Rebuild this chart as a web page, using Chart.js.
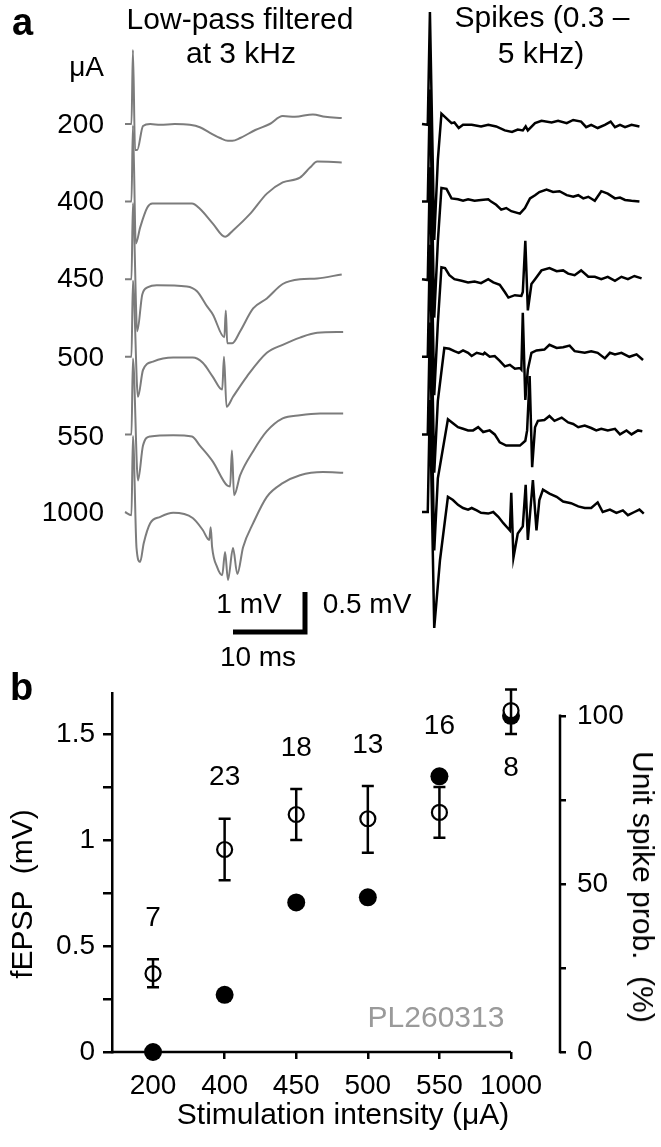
<!DOCTYPE html>
<html>
<head>
<meta charset="utf-8">
<script src="https://cdn.jsdelivr.net/npm/chart.js@4.4.1/dist/chart.umd.min.js"></script>
<style>
  body { margin: 0; background: #fff; }
  #page { position: relative; width: 661px; height: 1147px; overflow: hidden; font-family: 'Liberation Sans', Arial, sans-serif; color: #000; }
  canvas { position: absolute; left: 0; }
  .txt { position: absolute; white-space: pre; line-height: 1; }
</style>
</head>
<body>
<div id="page">
  <canvas id="tracesChart" width="661" height="640" style="top:0"></canvas>
  <canvas id="summaryChart" width="661" height="507" style="top:640px"></canvas>
</div>
<script>
// ---- Data (panel a): traces as [time ms, voltage mV] ----
const intensities = ['200', '400', '450', '500', '550', '1000'];

// low-pass filtered at 3 kHz (grey)
const lp200 = [[0,0],[0.9,0],[1.1,1.85],[1.4,-0.65],[1.7,-0.65],[2.5,-0.05],[3.5,0],[4.9,-0.02],[6.9,0],[9.0,-0.02],[10.4,-0.08],[11.8,-0.22],[13.2,-0.35],[14.3,-0.42],[14.9,-0.42],[16.0,-0.35],[18.1,-0.15],[20.1,0],[21.9,0.2],[23.6,0.18],[26.1,0.24],[27.8,0.18],[30.1,0.15]];
const lp400 = [[0,0],[0.9,0],[1.1,1.9],[1.5,-1.05],[2.1,-0.65],[3.1,-0.15],[3.8,-0.05],[5.8,-0.05],[9.3,-0.05],[10.4,-0.18],[12.2,-0.55],[13.9,-0.88],[15.0,-0.72],[17.4,-0.3],[19.7,0.2],[21.9,0.48],[24.3,0.6],[25.7,0.85],[26.7,1.0],[30.1,0.98]];
const lp450 = [[0,0],[0.9,0],[1.1,1.9],[1.7,-1.3],[2.4,-0.38],[3.2,-0.2],[4.4,-0.15],[8.6,-0.18],[10.0,-0.3],[11.4,-0.68],[12.2,-0.88],[13.8,-1.45],[14.0,-0.78],[14.2,-1.6],[14.9,-1.6],[16.0,-1.3],[17.8,-0.73],[19.7,-0.48],[21.9,-0.12],[24.3,0],[26.7,0.02],[30.1,0.12]];
const lp500 = [[0,0],[0.9,0],[1.1,1.9],[1.8,-1.0],[2.5,-0.33],[3.9,-0.12],[6.7,-0.02],[9.4,-0.02],[10.8,-0.15],[12.2,-0.5],[13.5,-0.82],[13.75,0.0],[14.1,-1.25],[15.0,-1.0],[16.9,-0.5],[19.7,0.1],[21.9,0.3],[24.3,0.48],[26.7,0.6],[30.3,0.62]];
const lp550 = [[0,0],[0.9,0],[1.1,1.9],[1.8,-1.15],[2.5,-0.28],[3.5,-0.05],[6.7,-0.02],[9.3,-0.05],[10.4,-0.28],[12.2,-0.68],[14.2,-1.28],[14.6,-1.3],[14.85,-0.4],[15.15,-1.52],[16.0,-1.02],[17.8,-0.42],[19.7,0.08],[21.9,0.4],[24.3,0.48],[27.1,0.52],[30.3,0.52]];
const lp1000 = [[0,0],[0.9,-0.08],[1.1,1.9],[1.6,-0.9],[2.1,-1.25],[2.6,-0.78],[3.5,-0.28],[4.9,-0.12],[6.7,-0.02],[9.4,-0.15],[10.8,-0.45],[11.7,-0.7],[11.9,-0.38],[12.1,-0.88],[12.8,-1.38],[13.5,-1.58],[13.9,-1.0],[14.3,-1.7],[15.0,-0.9],[15.6,-1.55],[16.4,-0.88],[17.8,-0.28],[19.7,0.38],[21.9,0.72],[24.3,0.92],[27.5,1.0],[30.3,0.98]];

// spikes, band-pass 0.3 - 5 kHz (black)
const sp200 = [[0,0],[0.8,-0.01],[1.1,1.4],[1.7,-1.45],[2.2,-0.45],[2.7,0.13],[3.4,0.07],[4.1,0.01],[4.5,0.02],[5.1,-0.05],[5.7,-0.01],[6.9,-0.01],[8.2,-0.03],[9.2,-0.01],[10.3,-0.03],[11.5,-0.08],[12.5,-0.1],[13.3,-0.07],[14.0,-0.08],[14.4,-0.03],[14.7,-0.08],[15.7,0.01],[16.6,0.04],[18.0,0.02],[18.9,0.04],[20.1,0.01],[21.0,0.05],[22.1,0.03],[22.8,-0.04],[23.5,-0.01],[24.4,-0.05],[25.4,-0.01],[26.2,0.03],[26.8,-0.04],[27.5,-0.01],[28.2,-0.04],[29.1,-0.01],[30.2,-0.03]];
const sp400 = [[0,0],[0.8,0],[1.1,1.4],[1.7,-1.45],[2.2,-0.5],[2.7,0.17],[3.4,0.16],[4.1,0.04],[5.0,0.03],[5.7,0.01],[6.4,0.03],[7.3,0.01],[8.2,0.02],[9.2,0.03],[9.6,0],[10.3,-0.04],[11.0,-0.1],[11.7,-0.08],[12.4,-0.12],[13.6,-0.15],[14.3,-0.08],[15.0,0.04],[15.7,0.08],[16.3,0.12],[17.3,0.15],[18.2,0.12],[19.1,0.13],[20.1,0.08],[21.0,0.06],[21.7,0.08],[22.4,0.04],[23.1,0.06],[24.0,0.01],[24.9,0.13],[25.8,0.1],[26.8,0.04],[27.5,0.05],[28.2,0.02],[29.1,0.01],[30.2,0]];
const sp450 = [[0,0],[0.8,-0.01],[1.1,1.4],[1.7,-1.45],[2.2,-0.55],[2.7,0.15],[3.2,0.14],[3.8,0.05],[4.5,0],[5.5,-0.02],[6.4,-0.04],[7.3,-0.03],[8.2,-0.05],[9.2,0],[9.9,-0.04],[10.8,-0.07],[11.5,-0.16],[12.0,-0.23],[12.9,-0.2],[13.8,-0.21],[14.0,-0.16],[14.35,0.48],[14.7,-0.39],[15.2,-0.06],[15.7,0],[16.6,0.11],[17.7,0.14],[18.7,0.1],[19.6,0.11],[20.3,0.07],[21.2,0.05],[22.1,0.11],[23.1,0.03],[24.0,0.03],[24.9,0],[25.8,0.03],[26.8,-0.02],[27.7,0.03],[28.6,0],[29.5,0.04],[30.5,0.01]];
const sp500 = [[0,0],[0.8,0],[1.1,1.4],[1.7,-1.45],[2.2,-0.55],[3.1,0.11],[3.8,0.1],[4.5,0.07],[5.1,0.05],[5.7,0.08],[6.4,0.05],[6.9,0.01],[7.6,0.05],[8.5,0.03],[8.7,0.05],[9.4,0],[10.1,0.01],[10.8,-0.05],[11.5,-0.12],[12.2,-0.1],[12.9,-0.15],[13.6,-0.14],[13.8,-0.16],[14.0,0.55],[14.35,-0.54],[14.7,-0.16],[15.2,0.05],[15.9,0.08],[17.0,0.09],[17.7,0.15],[18.7,0.11],[19.6,0.12],[20.5,0.14],[21.2,0.07],[22.6,0.05],[23.5,0.07],[24.4,0.05],[25.4,-0.02],[26.1,0.05],[26.8,0.03],[27.7,0.05],[28.8,0],[29.8,0.03],[30.7,-0.04]];
const sp550 = [[0,0],[0.8,0],[1.1,1.4],[1.7,-1.45],[2.2,-0.55],[3.6,0.19],[4.3,0.14],[5.0,0.09],[5.7,0.07],[6.4,0.05],[7.1,0.05],[7.8,0.09],[8.5,0.03],[9.4,0.05],[10.1,0],[10.8,-0.1],[11.7,-0.14],[12.6,-0.14],[13.6,-0.14],[14.35,-0.08],[14.6,0.05],[14.95,0.73],[15.3,-0.41],[15.7,0.09],[16.1,0.17],[17.0,0.18],[17.7,0.23],[18.4,0.17],[19.4,0.21],[20.3,0.15],[21.0,0.13],[21.7,0.09],[22.6,0.11],[23.5,0.08],[24.2,0.05],[24.9,0.07],[25.8,0.05],[26.8,0.07],[27.5,0],[28.4,0.05],[29.1,0],[30.0,0.05],[30.6,0.04]];
const sp1000 = [[0,0],[0.8,0],[1.1,1.4],[1.7,-1.45],[2.5,-0.6],[3.6,0.19],[4.3,0.15],[5.0,0.09],[5.7,0.05],[6.4,0.03],[6.9,0.05],[7.6,0.02],[8.2,-0.01],[9.2,-0.02],[9.9,0],[10.6,-0.06],[11.3,-0.14],[11.9,-0.2],[12.2,-0.23],[12.4,0.24],[12.7,-0.57],[13.3,-0.27],[14.0,-0.18],[14.4,0.34],[14.7,-0.35],[15.4,0.4],[15.9,-0.23],[16.3,0.15],[16.8,0.28],[17.7,0.23],[18.7,0.19],[19.6,0.13],[20.7,0.11],[21.7,0.07],[22.6,0.05],[23.5,0.05],[24.4,0.12],[25.1,0],[26.1,0.03],[27.0,-0.01],[27.9,0.02],[28.6,-0.04],[29.5,0],[30.2,0.03],[30.8,-0.02]];

const lowpassTraces = [lp200, lp400, lp450, lp500, lp550, lp1000];
const spikeTraces = [sp200, sp400, sp450, sp500, sp550, sp1000];

// ---- Data (panel b) ----
const stimLabels = ['200', '400', '450', '500', '550', '1000'];
const fepspMean = [0.37, 0.955, 1.12, 1.10, 1.13, 1.61];
const fepspLo   = [0.305, 0.81, 1.00, 0.94, 1.01, 1.50];
const fepspHi   = [0.437, 1.10, 1.24, 1.255, 1.25, 1.71];
const spikeProb = [0, 17, 44.5, 46, 82, 100];
const nCells    = [7, 23, 18, 13, 16, 8];
const nPlace    = ['above', 'above', 'above', 'above', 'above', 'below'];
const fepspTicks = [0, 0.25, 0.5, 0.75, 1, 1.25, 1.5];
const probTicks  = [0, 25, 50, 75, 100];

// ---- layout of panel a (px) ----
const W = 661, H_A = 640;
const PX_PER_MS = 7.2;
const L_T0 = 125, R_T0 = 422;     // where t = 0 sits for each column
const BASE0 = 124, GAP = 77.6;    // first baseline and spacing between traces
const L_PX_MV = 40, R_PX_MV = 80; // 1 mV -> 40 px, 0.5 mV -> 40 px
const SCALE_MS = 10, SCALE_MV = 1;
const scaleBarStart = { t: 15, v: -12.7 };

Chart.defaults.font.family = "'Liberation Sans', Arial, sans-serif";
Chart.defaults.color = '#000';

const traceSets = [];
lowpassTraces.forEach((tr, i) => {
    traceSets.push({
        data: tr.map(p => ({ x: p[0], y: p[1] - i * GAP / L_PX_MV })),
        xAxisID: 'x', yAxisID: 'y',
        borderColor: '#7c7c7c', borderWidth: 2, showLine: true, pointRadius: 0, clip: false,
        cubicInterpolationMode: 'monotone'
    });
});
spikeTraces.forEach((tr, i) => {
    traceSets.push({
        data: tr.map(p => ({ x: p[0], y: p[1] - i * GAP / R_PX_MV })),
        xAxisID: 'x2', yAxisID: 'y2',
        borderColor: '#000', borderWidth: 2.5, showLine: true, pointRadius: 0, clip: false
    });
});
// scale bar (10 ms, 1 mV on the low-pass scale)
traceSets.push({
    data: [
        { x: scaleBarStart.t, y: scaleBarStart.v },
        { x: scaleBarStart.t + SCALE_MS, y: scaleBarStart.v },
        { x: scaleBarStart.t + SCALE_MS, y: scaleBarStart.v + SCALE_MV }
    ],
    xAxisID: 'x', yAxisID: 'y',
    borderColor: '#000', borderWidth: 5, showLine: true, pointRadius: 0,
    borderCapStyle: 'butt', borderJoinStyle: 'miter', clip: false
});

new Chart(document.getElementById('tracesChart'), {
    type: 'scatter',
    data: { datasets: traceSets },
    options: {
        responsive: false, animation: false, events: [],
        layout: { padding: 0 },
        plugins: { legend: { display: false }, tooltip: { enabled: false } },
        scales: {
            x:  { type: 'linear', display: false, min: -L_T0 / PX_PER_MS, max: (W - L_T0) / PX_PER_MS },
            x2: { type: 'linear', axis: 'x', display: false, min: -R_T0 / PX_PER_MS, max: (W - R_T0) / PX_PER_MS },
            y:  { type: 'linear', display: false, max: BASE0 / L_PX_MV, min: (BASE0 - H_A) / L_PX_MV },
            y2: { type: 'linear', axis: 'y', display: false, max: BASE0 / R_PX_MV, min: (BASE0 - H_A) / R_PX_MV }
        }
    }
});

// ---- panel b ----
const errorBars = {
    id: 'errorBars',
    beforeDatasetsDraw(chart) {
        // partial axis lines: x axis stops at last category, right axis spans 0-100 only
        const { ctx, chartArea, scales } = chart;
        ctx.save();
        ctx.strokeStyle = '#000';
        ctx.lineWidth = 2.5;
        ctx.beginPath();
        ctx.moveTo(chartArea.left - 1.25, chartArea.bottom);
        ctx.lineTo(scales.x.getPixelForValue(stimLabels.length - 1), chartArea.bottom);
        ctx.moveTo(chartArea.right, scales.y2.getPixelForValue(0) + 1.25);
        ctx.lineTo(chartArea.right, scales.y2.getPixelForValue(100) - 1.25);
        ctx.stroke();
        ctx.restore();
    },
    afterDatasetsDraw(chart) {
        const { ctx, scales } = chart;
        ctx.save();
        ctx.strokeStyle = '#000';
        ctx.lineWidth = 2.5;
        fepspMean.forEach((m, i) => {
            const px = scales.x.getPixelForValue(i);
            const top = scales.y.getPixelForValue(fepspHi[i]);
            const bot = scales.y.getPixelForValue(fepspLo[i]);
            ctx.beginPath();
            ctx.moveTo(px, top); ctx.lineTo(px, bot);
            ctx.moveTo(px - 6, top); ctx.lineTo(px + 6, top);
            ctx.moveTo(px - 6, bot); ctx.lineTo(px + 6, bot);
            ctx.stroke();
        });
        // number of cells
        ctx.fillStyle = '#000';
        ctx.font = "28px 'Liberation Sans', Arial, sans-serif";
        ctx.textAlign = 'center';
        ctx.textBaseline = 'middle';
        nCells.forEach((n, i) => {
            const px = scales.x.getPixelForValue(i);
            let py;
            if (nPlace[i] === 'below') {
                py = scales.y.getPixelForValue(fepspLo[i]) + 34;
            } else {
                const top = Math.min(scales.y.getPixelForValue(fepspHi[i]), scales.y2.getPixelForValue(spikeProb[i]) - 9);
                py = top - 41;
            }
            ctx.fillText(String(n), px, py);
        });
        ctx.restore();
    }
};

const axisGrid = { drawOnChartArea: false, drawTicks: true, color: '#000', lineWidth: 2.5 };

new Chart(document.getElementById('summaryChart'), {
    type: 'scatter',
    data: {
        datasets: [
            {
                label: 'fEPSP',
                data: fepspMean.map((v, i) => ({ x: i, y: v })),
                yAxisID: 'y',
                pointRadius: 7.5, pointBorderWidth: 2.2,
                pointBorderColor: '#000', pointBackgroundColor: '#fff', clip: false
            },
            {
                label: 'Unit spike prob.',
                data: spikeProb.map((v, i) => ({ x: i, y: v })),
                yAxisID: 'y2',
                pointRadius: 9, pointBorderWidth: 0,
                pointBorderColor: '#000', pointBackgroundColor: '#000', clip: false
            }
        ]
    },
    plugins: [errorBars],
    options: {
        responsive: false, animation: false, events: [],
        layout: { padding: { top: 53, left: 0, right: 0, bottom: 0 } },
        plugins: { legend: { display: false }, tooltip: { enabled: false } },
        scales: {
            x: {
                type: 'linear', min: -0.573, max: 5.684,
                afterBuildTicks: s => { s.ticks = stimLabels.map((_, i) => ({ value: i })); },
                afterFit: s => { s.height = 95; },
                ticks: { callback: v => stimLabels[v], font: { size: 28 }, color: '#000', padding: 10, maxRotation: 0, autoSkip: false },
                grid: Object.assign({}, axisGrid, { tickLength: 7 }),
                border: { display: false }
            },
            y: {
                type: 'linear', position: 'left', min: 0, max: 1.693,
                afterBuildTicks: s => { s.ticks = fepspTicks.map(v => ({ value: v })); },
                afterFit: s => { s.width = 112; },
                ticks: { callback: v => (v % 0.5 === 0 ? String(v) : ''), font: { size: 28 }, color: '#000', padding: 8 },
                grid: Object.assign({}, axisGrid, { tickLength: 9 }),
                border: { display: true, color: '#000', width: 2.5 }
            },
            y2: {
                type: 'linear', position: 'right', min: 0, max: 106.8,
                afterBuildTicks: s => { s.ticks = probTicks.map(v => ({ value: v })); },
                afterFit: s => { s.width = 101; },
                ticks: { callback: v => (v % 50 === 0 ? String(v) : ''), font: { size: 28 }, color: '#000', padding: 11 },
                grid: Object.assign({}, axisGrid, { tickLength: 6 }),
                border: { display: false }
            }
        }
    }
});

// ---- text labels ----
const page = document.getElementById('page');
function addText(text, x, y, opts) {
    const o = Object.assign({ size: 28, align: 'center', bold: false, color: '#000', rotate: 0 }, opts || {});
    const d = document.createElement('div');
    d.className = 'txt';
    d.textContent = text;
    d.style.fontSize = o.size + 'px';
    d.style.color = o.color;
    if (o.bold) d.style.fontWeight = 'bold';
    d.style.top = y + 'px';
    d.style.left = x + 'px';
    const tx = o.align === 'center' ? '-50%' : (o.align === 'right' ? '-100%' : '0');
    d.style.transform = `translate(${tx}, -50%)`;
    if (o.rotate) d.style.transform = `translate(-50%, -50%) rotate(${o.rotate}deg)`;
    page.appendChild(d);
}

addText('a', 12, 22, { size: 38, bold: true, align: 'left' });
addText('Low-pass filtered', 240, 19, { size: 30 });
addText('at 3 kHz', 241, 53, { size: 30 });
addText('Spikes (0.3 \u2013', 542, 17, { size: 30 });
addText('5 kHz)', 541, 53, { size: 30 });
addText('\u03bcA', 104, 67, { align: 'right' });
const labelY = [124, 201, 278, 357, 436, 512];
intensities.forEach((lab, i) => addText(lab, 104, labelY[i], { align: 'right' }));
addText('1 mV', 249, 604);
addText('0.5 mV', 367, 604);
addText('10 ms', 258, 657);

addText('b', 10, 687, { size: 38, bold: true, align: 'left' });
addText('PL260313', 436, 1017, { size: 30, color: '#9a9a9a' });
addText('Stimulation intensity (\u03bcA)', 343, 1114, { size: 30 });
addText('fEPSP  (mV)', 22, 894, { size: 30, rotate: -90 });
addText('Unit spike prob.  (%)', 643, 887, { size: 30, rotate: 90 });
</script>
</body>
</html>
